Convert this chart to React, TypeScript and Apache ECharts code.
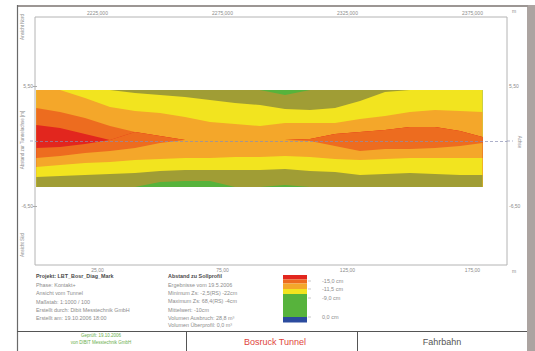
import React, { useEffect, useRef } from "react";
import * as echarts from "echarts";

// ---- data (stations in m along the tunnel, lateral offsets in dm) ----
const stations = [0.5, 10, 20, 30, 40, 50, 60, 70, 80, 90, 100, 110, 120, 130, 140, 150, 160, 170, 179];

// upper edge of each colour band (road top down to road bottom)
const topGreenTop = [51, 51, 51, 51, 51, 51, 51, 51, 51, 51, 51, 51, 51, 51, 51, 51, 51, 51, 51];
const topOliveTop = [51, 51, 51, 51, 51, 51, 51, 51, 51, 51, 46, 51, 51, 51, 51, 51, 51, 51, 51];
const topYellowTop = [51, 51, 51, 51, 48, 46, 44, 41, 38, 36, 32, 31, 33, 40, 49, 51, 51, 51, 51];
const topOrangeTop = [51, 51, 43, 34, 30, 28, 24, 19, 17, 15, 18, 18, 18, 22, 25, 29, 31, 30, 29];
const topDarkTop = [33, 29, 23, 15, 9, 5, 1, 1, 1, 1, 1, 2, 7, 9, 11, 14, 14, 10, 4];
const redTop = [16, 13, 7, 1, 9, 5, 1, 1, 1, 1, 1, 2, 7, 9, 11, 14, 14, 10, 4];
const lowDarkTop = [-7, -6, -3, 1, 9, 5, 1, 1, 1, 1, 1, 2, 7, 9, 11, 14, 14, 10, 4];
const lowOrangeTop = [-17, -15, -12, -10, -7, -2, 1, 1, 1, 1, 1, 0, -5, -10, -8, -8, -7, -5, -2];
const lowYellowTop = [-26, -24, -22, -21, -19, -18, -17, -17, -16, -16, -15, -16, -18, -19, -18, -17, -17, -17, -17];
const lowOliveTop = [-36, -35, -34, -33, -32, -30, -29, -29, -29, -29, -28, -30, -31, -34, -33, -32, -33, -34, -34];
const lowGreenTop = [-46, -46, -46, -46, -46, -41, -40, -40, -46, -46, -44, -46, -46, -46, -46, -46, -46, -46, -46];
const roadBottom = [-46, -46, -46, -46, -46, -46, -46, -46, -46, -46, -46, -46, -46, -46, -46, -46, -46, -46, -46];

const xTickValues = [25, 75, 125, 175];
const topTickLabels = ["2225,000", "2275,000", "2325,000", "2375,000"];
const bottomTickLabels = ["25,00", "75,00", "125,00", "175,00"];
const yTickValues = [55, -65];
const yTickLabels = ["5,50", "-6,50"];

const legendLabels = ["-15,0 cm", "-11,5 cm", "-9,0 cm", "0,0 cm"];

const projectLines = [
  "Projekt: LBT_Bosr_Diag_Mark",
  "Phase: Kontakt+",
  "Ansicht vom Tunnel",
  "Maßstab: 1:1000 / 100",
  "Erstellt durch: Dibit Messtechnik GmbH",
  "Erstellt am: 19.10.2006 18:00",
];
const resultLines = [
  "Abstand zu Sollprofil",
  "Ergebnisse vom 19.5.2006",
  "Minimum Zs: -2,5(RS) -22cm",
  "Maximum Zs: 68,4(RS) -4cm",
  "Mittelwert: -10cm",
  "Volumen Ausbruch: 28,8 m³",
  "Volumen Überprofil: 0,0 m³",
];

// ---- styles ----
const GREEN = "#57b33c";
const OLIVE = "#a09d35";
const YELLOW = "#f2e41f";
const ORANGE = "#f4a72a";
const DARK = "#ed6c1f";
const RED = "#e2261e";
const BLUE = "#2b4b9e";
const FONT = "Liberation Sans, Arial, sans-serif";
const GREY = "#8c8c8c";

const edges = [
  topGreenTop, topOliveTop, topYellowTop, topOrangeTop, topDarkTop, redTop,
  lowDarkTop, lowOrangeTop, lowYellowTop, lowOliveTop, lowGreenTop,
];
const bandColors = [GREEN, OLIVE, YELLOW, ORANGE, DARK, RED, DARK, ORANGE, YELLOW, OLIVE, GREEN];

const pickLabel = (vals: number[], labels: string[]) => (v: number) => {
  const i = vals.findIndex((t) => Math.abs(t - v) < 1e-6);
  return i >= 0 ? labels[i] : "";
};

function txt(x: number, y: number, text: string, size: number, fill: string, extra: any = {}) {
  return {
    type: "text",
    x,
    y,
    silent: true,
    rotation: extra.rotation || 0,
    style: {
      text,
      fontSize: size,
      fontFamily: FONT,
      fill,
      fontWeight: extra.bold ? "bold" : "normal",
      align: extra.align || "left",
      verticalAlign: "middle",
    },
  };
}

function ln(x1: number, y1: number, x2: number, y2: number, stroke: string, w: number, dash?: number[]) {
  return {
    type: "line",
    silent: true,
    shape: { x1, y1, x2, y2 },
    style: { stroke, lineWidth: w, lineDash: dash || null },
  };
}

export default function App() {
  const ref = useRef<HTMLDivElement>(null);
  useEffect(() => {
    const chart = echarts.init(ref.current!, null, { renderer: "svg" });

    const legendSegs = [
      [275, 4.5, RED], [279.5, 4, DARK], [283.5, 5.5, ORANGE], [289, 5, YELLOW], [294, 23, GREEN], [317, 5.5, BLUE],
    ] as [number, number, string][];
    const legendLabelY = [281, 289, 298, 317];

    const graphics: any[] = [
      // outer frame
      { type: "rect", silent: true, shape: { x: 527, y: 5, width: 8, height: 346 }, style: { fill: "#aca4a1" } },
      ln(17, 6, 528, 6, "#9c9694", 2),
      ln(17.5, 5, 17.5, 351, "#6a6a6a", 1.2),
      // title block
      ln(17, 331.5, 527, 331.5, "#555", 1),
      ln(186.5, 331, 186.5, 351, "#555", 1),
      ln(357.5, 331, 357.5, 351, "#555", 1),
      // centre line continuation beyond the frame
      ln(507, 141, 513, 141, "#8a8fb5", 0.7, [3, 2]),
      ln(30, 141, 35, 141, "#8a8fb5", 0.7, [3, 2]),
      // vertical side texts
      txt(22, 27, "Ansicht Nord", 4.5, GREY, { rotation: Math.PI / 2, align: "center" }),
      txt(22, 140, "Abstand zur Tunnelachse [m]", 4.5, GREY, { rotation: Math.PI / 2, align: "center" }),
      txt(22, 245, "Ansicht Süd", 4.5, GREY, { rotation: Math.PI / 2, align: "center" }),
      txt(519, 142, "Achse", 4.5, GREY, { rotation: -Math.PI / 2, align: "center" }),
      txt(512, 11, "m", 5, GREY),
      txt(512, 271, "m", 5, GREY),
      // bottom cells
      txt(101, 335.5, "Geprüft: 19.10.2006", 4.5, "#6aae4a", { align: "center" }),
      txt(101, 342.5, "von DIBIT Messtechnik GmbH", 4.5, "#6aae4a", { align: "center" }),
      txt(275, 342, "Bosruck Tunnel", 9, "#e0443c", { align: "center" }),
      txt(442, 342, "Fahrbahn", 9, "#555", { align: "center" }),
    ];

    const projY = [276, 284.5, 293, 301.5, 310, 317.5];
    projectLines.forEach((t, i) =>
      graphics.push(txt(36, projY[i], t, 5.4, i === 0 ? "#4a4a4a" : GREY, { bold: i === 0 }))
    );
    const resY = [276, 284.5, 293, 301, 309.5, 317.5, 325];
    resultLines.forEach((t, i) =>
      graphics.push(txt(168, resY[i], t, 5.4, i === 0 ? "#4a4a4a" : GREY, { bold: i === 0 }))
    );
    legendSegs.forEach(([y, h, c]) =>
      graphics.push({ type: "rect", silent: true, shape: { x: 283, y, width: 24, height: h }, style: { fill: c } })
    );
    legendLabels.forEach((t, i) => {
      graphics.push(ln(308, legendLabelY[i], 311, legendLabelY[i], "#aaa", 0.6));
      graphics.push(txt(322, legendLabelY[i], t, 5.5, GREY));
    });

    const xAxisBase = {
      type: "value",
      min: 0,
      max: 188.8,
      axisLine: { show: false },
      splitLine: { show: false },
      axisTick: { show: true, customValues: xTickValues, length: 2, lineStyle: { color: "#aaa" } },
    };
    const yAxisBase = {
      type: "value",
      min: -124,
      max: 124,
      axisLine: { show: false },
      splitLine: { show: false },
      axisTick: { show: true, customValues: yTickValues, length: 2, lineStyle: { color: "#aaa" } },
      axisLabel: {
        customValues: yTickValues,
        formatter: pickLabel(yTickValues, yTickLabels),
        fontSize: 5,
        color: GREY,
        fontFamily: FONT,
        margin: 2,
      },
    };

    chart.setOption({
      animation: false,
      backgroundColor: "#ffffff",
      graphic: graphics,
      grid: {
        left: 35, right: 28, top: 17, bottom: 86,
        show: true, borderColor: "#b4b4b4", borderWidth: 1, backgroundColor: "transparent",
      },
      xAxis: [
        {
          ...xAxisBase,
          position: "bottom",
          axisLabel: {
            customValues: xTickValues,
            formatter: pickLabel(xTickValues, bottomTickLabels),
            fontSize: 5, color: GREY, fontFamily: FONT, margin: 2,
          },
        },
        {
          ...xAxisBase,
          position: "top",
          axisLabel: {
            customValues: xTickValues,
            formatter: pickLabel(xTickValues, topTickLabels),
            fontSize: 5, color: GREY, fontFamily: FONT, margin: 2,
          },
        },
      ],
      yAxis: [
        { ...yAxisBase, position: "left" },
        { ...yAxisBase, position: "right" },
      ],
      series: [
        {
          type: "custom",
          coordinateSystem: "cartesian2d",
          xAxisIndex: 0,
          yAxisIndex: 0,
          silent: true,
          data: bandColors.map((_, k) => [k, 0]),
          renderItem: (_params: any, api: any) => {
            const k = api.value(0);
            const upper = edges[k];
            const pts: number[][] = [];
            stations.forEach((s, i) => pts.push(api.coord([s, upper[i]])));
            for (let i = stations.length - 1; i >= 0; i--) pts.push(api.coord([stations[i], roadBottom[i]]));
            return { type: "polygon", shape: { points: pts }, style: { fill: bandColors[k] } };
          },
          markLine: {
            silent: true,
            symbol: "none",
            label: { show: false },
            lineStyle: { type: [3, 2], color: "#8a8fb5", width: 0.7 },
            data: [{ yAxis: 0 }],
          },
        },
      ],
    });
    return () => chart.dispose();
  }, []);
  return (
    <div
      ref={ref}
      style={{ position: "absolute", left: 0, top: 0, width: 535, height: 351, background: "#fff" }}
    />
  );
}
